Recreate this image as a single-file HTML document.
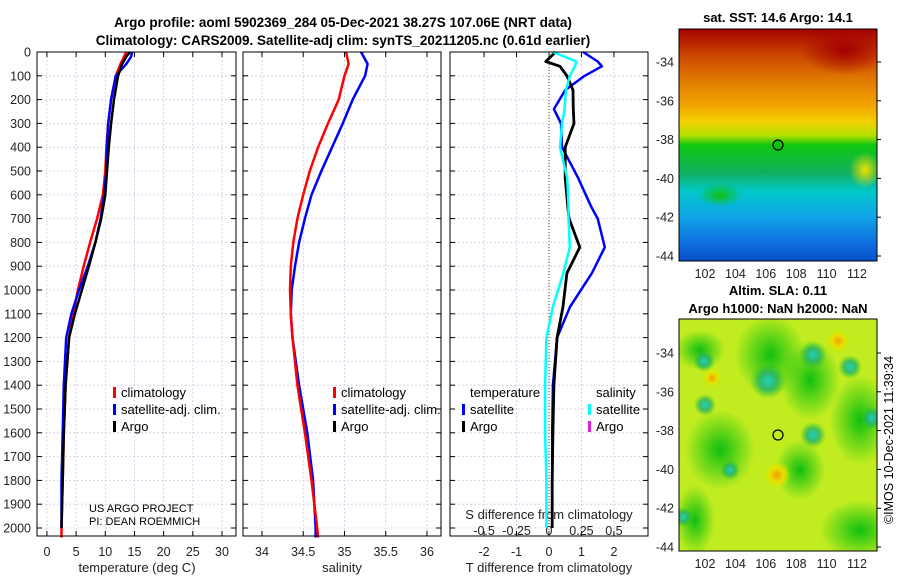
<!DOCTYPE html>
<html><head><meta charset="utf-8"><style>
body{margin:0;background:#fff;}
svg{display:block;font-family:"Liberation Sans","DejaVu Sans",sans-serif;}
</style></head><body>
<svg id="c" width="900" height="580" viewBox="0 0 900 580">
<defs>
<clipPath id="clipTop"><rect x="679" y="29" width="198" height="232"/></clipPath>
<clipPath id="clipBot"><rect x="679" y="319" width="198" height="232"/></clipPath>
<linearGradient id="sst" x1="0" y1="0" x2="0" y2="1">
<stop offset="0" stop-color="#a30000"/><stop offset="0.1" stop-color="#c84000"/><stop offset="0.22" stop-color="#e07a00"/>
<stop offset="0.32" stop-color="#f0a000"/><stop offset="0.4" stop-color="#f4d000"/><stop offset="0.46" stop-color="#b0e000"/><stop offset="0.5" stop-color="#10c810"/>
<stop offset="0.62" stop-color="#10b060"/><stop offset="0.7" stop-color="#00c8c8"/><stop offset="0.8" stop-color="#10a8e8"/>
<stop offset="0.92" stop-color="#1070e0"/><stop offset="1" stop-color="#0850c8"/></linearGradient>
<radialGradient id="cy"><stop offset="0" stop-color="#20d0c0"/><stop offset="0.5" stop-color="#20b070" stop-opacity="0.8"/><stop offset="1" stop-color="#20c020" stop-opacity="0"/></radialGradient>
<radialGradient id="gr"><stop offset="0" stop-color="#10c010"/><stop offset="1" stop-color="#10c010" stop-opacity="0"/></radialGradient>
<radialGradient id="or"><stop offset="0" stop-color="#f0a000"/><stop offset="0.5" stop-color="#e8e000"/><stop offset="1" stop-color="#d0f000" stop-opacity="0"/></radialGradient>
<radialGradient id="rd"><stop offset="0" stop-color="#a30000"/><stop offset="1" stop-color="#a30000" stop-opacity="0"/></radialGradient>
<radialGradient id="yl"><stop offset="0" stop-color="#f0e000"/><stop offset="1" stop-color="#f0e000" stop-opacity="0"/></radialGradient>
</defs>
<text x="343" y="27" text-anchor="middle" font-size="13.5" font-weight="bold">Argo profile: aoml 5902369_284 05-Dec-2021 38.27S 107.06E (NRT data)</text>
<text x="343" y="45" text-anchor="middle" font-size="13.5" font-weight="bold">Climatology: CARS2009. Satellite-adj clim: synTS_20211205.nc (0.61d earlier)</text>
<g id="g"></g>
<g>
<text x="778" y="22" text-anchor="middle" font-size="13" font-weight="bold">sat. SST: 14.6 Argo: 14.1</text>
<g clip-path="url(#clipTop)">
<rect x="679" y="29" width="198" height="232" fill="url(#sst)"/>
<ellipse cx="845" cy="50" rx="45" ry="25" fill="url(#rd)"/>
<ellipse cx="865" cy="170" rx="16" ry="18" fill="url(#yl)"/>
<ellipse cx="720" cy="195" rx="22" ry="12" fill="url(#gr)"/>
</g>
<circle cx="778" cy="145" r="5" fill="#10c010" stroke="#000" stroke-width="1.2"/>
<rect x="679" y="29" width="198" height="232" fill="none" stroke="#000" stroke-width="1"/>
</g>
<g>
<text x="778" y="295" text-anchor="middle" font-size="13" font-weight="bold">Altim. SLA: 0.11</text>
<text x="778" y="313" text-anchor="middle" font-size="13" font-weight="bold">Argo h1000: NaN h2000: NaN</text>
<g clip-path="url(#clipBot)">
<rect x="679" y="319" width="198" height="232" fill="#c0ec20"/>
<ellipse cx="700" cy="350" rx="25" ry="20" fill="url(#gr)"/><ellipse cx="770" cy="355" rx="35" ry="40" fill="url(#gr)"/>
<ellipse cx="810" cy="380" rx="30" ry="40" fill="url(#gr)"/><ellipse cx="860" cy="420" rx="30" ry="45" fill="url(#gr)"/>
<ellipse cx="720" cy="450" rx="35" ry="40" fill="url(#gr)"/><ellipse cx="860" cy="530" rx="40" ry="30" fill="url(#gr)"/>
<ellipse cx="695" cy="520" rx="20" ry="35" fill="url(#gr)"/><ellipse cx="800" cy="470" rx="25" ry="30" fill="url(#gr)"/>
<circle cx="768" cy="381" r="18" fill="url(#cy)"/><circle cx="813" cy="355" r="14" fill="url(#cy)"/>
<circle cx="850" cy="367" r="12" fill="url(#cy)"/><circle cx="704" cy="361" r="11" fill="url(#cy)"/>
<circle cx="705" cy="405" r="11" fill="url(#cy)"/><circle cx="813" cy="435" r="13" fill="url(#cy)"/>
<circle cx="730" cy="470" r="10" fill="url(#cy)"/><circle cx="872" cy="418" r="12" fill="url(#cy)"/>
<circle cx="683" cy="517" r="10" fill="url(#cy)"/>
<circle cx="838" cy="341" r="12" fill="url(#or)"/><circle cx="712" cy="378" r="10" fill="url(#or)"/>
<circle cx="777" cy="475" r="14" fill="url(#or)"/>
</g>
<circle cx="778" cy="435" r="5" fill="none" stroke="#000" stroke-width="1.2"/>
<rect x="679" y="319" width="198" height="232" fill="none" stroke="#000" stroke-width="1"/>
</g>
<text transform="translate(893,440) rotate(-90)" text-anchor="middle" font-size="12.5">©IMOS 10-Dec-2021 11:39:34</text>
</svg>
<script>
const depthTicks=[0,100,200,300,400,500,600,700,800,900,1000,1100,1200,1300,1400,1500,1600,1700,1800,1900,2000];
const depthArgo=[0,20,50,100,200,300,400,500,600,700,800,900,1000,1100,1200,1400,1600,1800,2000];
const tempArgo=[14.2,13.6,12.9,12.2,11.5,11.0,10.6,10.3,10.0,9.3,8.3,7.2,6.0,4.8,3.8,3.2,2.9,2.7,2.5];
const depthClim=[0,50,100,200,300,400,500,600,700,800,900,1000,1100,1200,1400,1600,1800,2000,2040];
const tempClim=[13.6,12.6,11.8,11.0,10.5,10.2,10.0,9.6,8.6,7.4,6.3,5.3,4.5,3.8,3.2,2.9,2.7,2.5,2.5];
const tempSat=[14.6,14.4,13.6,11.8,11.0,10.5,10.3,10.2,9.8,9.2,8.3,7.0,5.5,4.2,3.3,2.9,2.7,2.5,2.5];
const salClim=[35.02,35.05,35.0,34.93,34.8,34.68,34.58,34.5,34.43,34.38,34.35,34.34,34.35,34.37,34.43,34.52,34.6,34.67,34.68];
const salSat=[35.2,35.28,35.25,35.1,34.98,34.85,34.72,34.6,34.52,34.45,34.4,34.36,34.35,34.37,34.45,34.55,34.62,34.65,34.65];
const depthDiff=[0,40,60,100,160,240,300,400,530,650,700,820,930,1070,1200,1400,1600,1800,2000];
const tDiffArgo=[0.2,-0.1,0.34,0.55,0.74,0.75,0.77,0.5,0.5,0.58,0.62,0.95,0.55,0.43,0.25,0.15,0.12,0.1,0.1];
const tDiffSat=[1.05,1.5,1.63,1.1,0.5,0.15,0.37,0.4,0.9,1.3,1.5,1.72,1.32,0.65,0.25,0.12,0.1,0.1,0.1];
const sDiffSat=[0.03,0.21,0.2,0.16,0.13,0.12,0.1,0.085,0.14,0.15,0.15,0.16,0.11,0.03,-0.02,-0.03,-0.03,-0.02,-0.02];
const tempTicks=[0,5,10,15,20,25,30];
const salTicks=[34,34.5,35,35.5,36];
const salTickLabels=["34","34.5","35","35.5","36"];
const tDiffTicks=[-2,-1,0,1,2];
const sDiffTicks=[-0.5,-0.25,0,0.25,0.5];
const sDiffLabels=["-0.5","-0.25","0","0.25","0.5"];

const NS="http://www.w3.org/2000/svg";
const G=document.getElementById('g');
function mk(tag,at,parent){const e=document.createElementNS(NS,tag);for(const k in at)e.setAttribute(k,at[k]);(parent||G).appendChild(e);return e;}
const Y0=52,Y1=536;
function yD(d){return Y0+d*0.238;}
const panels=[
 {x0:37,x1:236,lo:-1.7,hi:32.4,name:'temperature-panel'},
 {x0:243,x1:441,lo:33.77,hi:36.17,name:'salinity-panel'},
 {x0:450,x1:648,lo:-3.05,hi:3.05,name:'difference-panel'}];
function xf(p,v){return p.x0+(v-p.lo)/(p.hi-p.lo)*(p.x1-p.x0);}
const sP={x0:450,x1:648,lo:-0.7625,hi:0.7625};

function drawLine(p,vals,deps,color,w,name){
 let d='';vals.forEach((v,i)=>{d+=(i?'L':'M')+xf(p,v).toFixed(1)+','+yD(deps[i]).toFixed(1);});
 const e=mk('path',{d:d,fill:'none',stroke:color,'stroke-width':w,'stroke-linejoin':'round'});
 
 
}
function txt(x,y,s,at,name){const e=mk('text',Object.assign({x:x,y:y,'font-size':12.5,fill:'#222'},at||{}));e.textContent=s;
 
 return e;}

panels.forEach((p,pi)=>{
 const g=mk('g',{});
 
 
 const ticks=pi===0?tempTicks:pi===1?salTicks:tDiffTicks;
 ticks.forEach(t=>{const x=xf(p,t);mk('line',{x1:x,x2:x,y1:Y0,y2:Y1,stroke:'#c8c8f0','stroke-width':0.8,'stroke-dasharray':'2,2'},g);
  mk('line',{x1:x,x2:x,y1:Y1,y2:Y1-5,stroke:'#000'},g);mk('line',{x1:x,x2:x,y1:Y0,y2:Y0+5,stroke:'#000'},g);});
 depthTicks.forEach(d=>{const y=yD(d);mk('line',{x1:p.x0,x2:p.x1,y1:y,y2:y,stroke:'#d8c8e0','stroke-width':0.8,'stroke-dasharray':'2,2'},g);
  mk('line',{x1:p.x0,x2:p.x0+5,y1:y,y2:y,stroke:'#000'},g);mk('line',{x1:p.x1,x2:p.x1-5,y1:y,y2:y,stroke:'#000'},g);});
});
depthTicks.forEach(d=>txt(31,yD(d)+4.5,String(d),{'text-anchor':'end'},'depth-tick-label'));
const P0=panels[0],P1=panels[1],P2=panels[2];
tempTicks.forEach(t=>txt(xf(P0,t),556,String(t),{'text-anchor':'middle'},'temperature-tick-label'));
salTicks.forEach((t,i)=>txt(xf(P1,t),556,salTickLabels[i],{'text-anchor':'middle'},'salinity-tick-label'));
tDiffTicks.forEach(t=>txt(xf(P2,t),556,String(t),{'text-anchor':'middle'},'t-difference-tick-label'));
sDiffTicks.forEach((t,i)=>txt(xf(sP,t),535,sDiffLabels[i],{'text-anchor':'middle'},'s-difference-tick-label'));
txt(137,572,'temperature (deg C)',{'text-anchor':'middle','font-size':13},'temperature-axis-title');
txt(342,572,'salinity',{'text-anchor':'middle','font-size':13},'salinity-axis-title');
txt(549,572,'T difference from climatology',{'text-anchor':'middle','font-size':13},'t-difference-axis-title');
txt(549,519,'S difference from climatology',{'text-anchor':'middle','font-size':13},'s-difference-axis-title');
const zl=mk('line',{x1:xf(P2,0),x2:xf(P2,0),y1:Y0,y2:Y1,stroke:'#305030','stroke-width':1,'stroke-dasharray':'1,2'});



drawLine(P0,tempClim,depthClim,'#f00',2.5,'temperature-climatology-line');
drawLine(P0,tempSat,depthArgo,'#00f',2.5,'temperature-satellite-line');
drawLine(P0,tempArgo,depthArgo,'#000',2.5,'temperature-argo-line');
drawLine(P1,salSat,depthClim,'#00f',2.5,'salinity-satellite-line');
drawLine(P1,salClim,depthClim,'#f00',2.5,'salinity-climatology-line');
drawLine(P2,tDiffSat,depthDiff,'#00f',2.5,'t-diff-satellite-line');
drawLine(P2,tDiffArgo,depthDiff,'#000',2.8,'t-diff-argo-line');
drawLine(sP,sDiffSat,depthDiff,'#0ff',2.5,'s-diff-satellite-line');

panels.forEach(p=>{const r=mk('rect',{x:p.x0,y:Y0,width:p.x1-p.x0,height:Y1-Y0,fill:'none',stroke:'#000','stroke-width':1});
 
 });

function leg(x,y,color,label,name){const m=mk('rect',{x:x-5,y:y-10,width:3,height:11,fill:color});
 
 
 txt(x+3,y,label,{'font-size':13,fill:'#000'},name);}
[[118,'climatology-legend'],[338,'climatology-legend']].forEach(a=>{leg(a[0],397,'#f00','climatology',a[1]);leg(a[0],414,'#00f','satellite-adj. clim.','satellite-legend');leg(a[0],431,'#000','Argo','argo-legend');});
txt(470,397,'temperature',{'font-size':13,fill:'#000'},'temperature-legend-header');
leg(467,414,'#00f','satellite','t-satellite-legend');leg(467,431,'#000','Argo','t-argo-legend');
txt(596,397,'salinity',{'font-size':13,fill:'#000'},'salinity-legend-header');
leg(593,414,'#0ff','satellite','s-satellite-legend');leg(593,431,'#e020e0','Argo','s-argo-legend');
txt(89,512,'US ARGO PROJECT',{'font-size':11,fill:'#000'},'project-credit');
txt(89,525,'PI: DEAN ROEMMICH',{'font-size':11,fill:'#000'},'pi-credit');

const svg=document.getElementById('c');
const lonTicks=[102,104,106,108,110,112];
const latTicks=[-34,-36,-38,-40,-42,-44];
function mapAxes(top,lat34){
 lonTicks.forEach(l=>{const x=705+(l-102)*15.2;const t=mk('text',{x:x,y:top+232+17,'text-anchor':'middle','font-size':12.5,fill:'#222'},svg);t.textContent=l;
  
  });
 latTicks.forEach(l=>{const y=lat34+(-34-l)*19.4;const t=mk('text',{x:674,y:y+4.5,'text-anchor':'end','font-size':12.5,fill:'#222'},svg);t.textContent=l;
  
  
  mk('line',{x1:877,x2:881,y1:y,y2:y,stroke:'#000'},svg);});
}
mapAxes(29,62);mapAxes(319,353);
</script>
</body></html>
